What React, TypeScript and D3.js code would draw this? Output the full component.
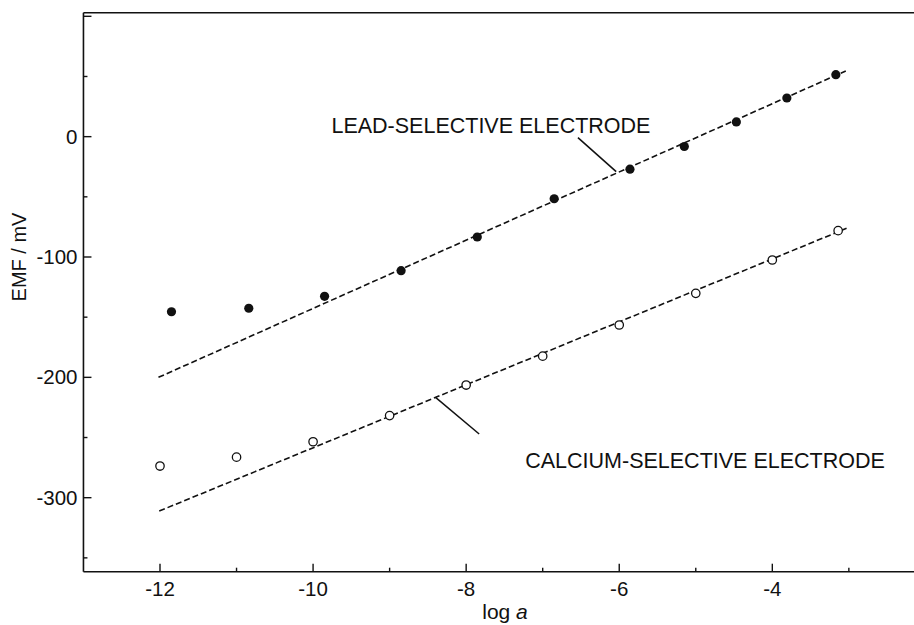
import React from "react";
import * as d3 from "d3";

const W = 914;
const H = 625;

// Lead-selective electrode (filled circles)
const leadX = [-11.85, -10.84, -9.85, -8.85, -7.855, -6.85, -5.86, -5.15, -4.47, -3.81, -3.17];
const leadY = [-145.5, -142.6, -132.7, -111.4, -83.4, -51.6, -27.0, -8.2, 12.2, 32.1, 51.5];

// Calcium-selective electrode (open circles)
const caX = [-12, -11, -10, -9, -8, -7, -6, -5, -4, -3.14];
const caY = [-273.7, -266.3, -253.5, -231.8, -206.4, -182.4, -156.5, -130.2, -102.5, -78.1];

// Fitted lines (endpoints in data units)
const leadFitX = [-12.02, -3.04];
const leadFitY = [-200.0, 54.6];
const caFitX = [-12.01, -3.03];
const caFitY = [-311.1, -76.2];

// Axis ticks
const xMajor = [-12, -10, -8, -6, -4];
const xMinor = [-11, -9, -7, -5, -3];
const yMajor = [100, 0, -100, -200, -300];
const yMajorLabels = ["", "0", "-100", "-200", "-300"];
const yMinor = [50, -50, -150, -250, -350];

// Annotations in data units
const leadLabel = { text: "LEAD-SELECTIVE ELECTRODE", x: -9.76, y: 3.0 };
const leadLeader = { x: [-6.54, -6.04], y: [-0.8, -29.1] };
const caLabel = { text: "CALCIUM-SELECTIVE ELECTRODE", x: -2.53, y: -275.4 };
const caLeader = { x: [-8.40, -7.83], y: [-216.6, -247.1] };

const FONT = "'Liberation Sans', Arial, Helvetica, sans-serif";

export default function App() {
  const x = d3.scaleLinear().domain([-13, -2]).range([83.46, 925.4]);
  const y = d3.scaleLinear().domain([-361.5, 103]).range([571.7, 12.7]);

  const x0 = x(-13);
  const yB = y(-361.5);
  const yT = y(103);

  const line = d3
    .line<[number, number]>()
    .x((d) => x(d[0]))
    .y((d) => y(d[1]));

  const leadFit: [number, number][] = leadFitX.map((v, i) => [v, leadFitY[i]]);
  const caFit: [number, number][] = caFitX.map((v, i) => [v, caFitY[i]]);

  const ink = "#111";

  return (
    <svg
      width={W}
      height={H}
      style={{ position: "absolute", left: 0, top: 0, background: "#fff" }}
      fontFamily={FONT}
    >
      <rect x={0} y={0} width={W} height={H} fill="#fff" />
      {/* frame */}
      <line x1={x0} x2={W} y1={yT} y2={yT} stroke={ink} strokeWidth={1.6} />
      <line x1={x0} x2={x0} y1={yT} y2={yB} stroke={ink} strokeWidth={1.6} />
      <line x1={x0} x2={W} y1={yB} y2={yB} stroke={ink} strokeWidth={1.6} />

      {/* x ticks */}
      {xMajor.map((v) => (
        <g key={"xM" + v}>
          <line x1={x(v)} x2={x(v)} y1={yB} y2={yB - 8} stroke={ink} strokeWidth={1.4} />
          <text x={x(v)} y={yB + 24} textAnchor="middle" fontSize={20.5} fill={ink}>
            {String(v)}
          </text>
        </g>
      ))}
      {xMinor.map((v) => (
        <line key={"xm" + v} x1={x(v)} x2={x(v)} y1={yB} y2={yB - 4} stroke={ink} strokeWidth={1.4} />
      ))}

      {/* y ticks */}
      {yMajor.map((v, i) => (
        <g key={"yM" + v}>
          <line x1={x0} x2={x0 + 8} y1={y(v)} y2={y(v)} stroke={ink} strokeWidth={1.4} />
          <text x={x0 - 6} y={y(v) + 7} textAnchor="end" fontSize={20.5} fill={ink}>
            {yMajorLabels[i]}
          </text>
        </g>
      ))}
      {yMinor.map((v) => (
        <line key={"ym" + v} x1={x0} x2={x0 + 4} y1={y(v)} y2={y(v)} stroke={ink} strokeWidth={1.4} />
      ))}

      {/* axis titles */}
      <text
        transform={`translate(26, ${y(-100)}) rotate(-90)`}
        textAnchor="middle"
        fontSize={20}
        fill={ink}
      >
        EMF / mV
      </text>
      <text x={505} y={619} textAnchor="middle" fontSize={21} fill={ink}>
        log <tspan fontStyle="italic">a</tspan>
      </text>

      {/* fitted lines */}
      <path d={line(leadFit) || ""} fill="none" stroke={ink} strokeWidth={1.6} strokeDasharray="6,3" />
      <path d={line(caFit) || ""} fill="none" stroke={ink} strokeWidth={1.6} strokeDasharray="6,3" />

      {/* points */}
      {leadX.map((v, i) => (
        <circle key={"l" + i} cx={x(v)} cy={y(leadY[i])} r={4.6} fill={ink} />
      ))}
      {caX.map((v, i) => (
        <circle
          key={"c" + i}
          cx={x(v)}
          cy={y(caY[i])}
          r={4.2}
          fill="#fff"
          stroke={ink}
          strokeWidth={1.3}
        />
      ))}

      {/* annotations */}
      <line
        x1={x(leadLeader.x[0])}
        y1={y(leadLeader.y[0])}
        x2={x(leadLeader.x[1])}
        y2={y(leadLeader.y[1])}
        stroke={ink}
        strokeWidth={1.5}
      />
      <text x={x(leadLabel.x)} y={y(leadLabel.y)} fontSize={21.5} fill={ink}>
        {leadLabel.text}
      </text>
      <line
        x1={x(caLeader.x[0])}
        y1={y(caLeader.y[0])}
        x2={x(caLeader.x[1])}
        y2={y(caLeader.y[1])}
        stroke={ink}
        strokeWidth={1.5}
      />
      <text x={x(caLabel.x)} y={y(caLabel.y)} textAnchor="end" fontSize={21.5} fill={ink}>
        {caLabel.text}
      </text>
    </svg>
  );
}
